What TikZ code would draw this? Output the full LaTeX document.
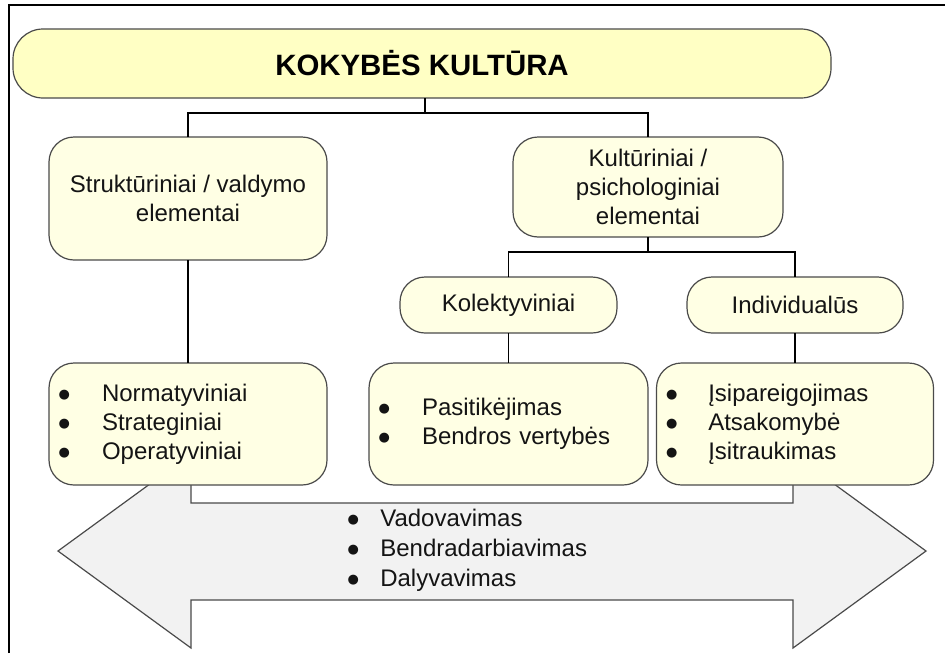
\documentclass[tikz,border=0pt]{standalone}
\usepackage{fontspec}
\setmainfont{Liberation Sans}
\newfontfamily\dotfont{DejaVu Sans}
\definecolor{boxline}{HTML}{4A4A4A}
\definecolor{titlefill}{HTML}{FFFFC4}
\definecolor{boxfill}{HTML}{FFFFE4}
\definecolor{arrowfill}{HTML}{F2F2F2}
\definecolor{textc}{HTML}{141414}
% list bullet: a small round dot set before each item
\newcommand{\bul}[1][22pt]{\makebox[#1][l]{\hspace{0.3pt}\raisebox{1.6pt}{\dotfont\fontsize{6.5}{6.5}\selectfont ●}}}
\begin{document}
\begin{tikzpicture}[x=0.5pt,y=-0.5pt,
  box/.style={draw=boxline, line width=0.6pt, fill=boxfill, rounded corners=12.5pt,
    inner sep=0pt, outer sep=0pt, align=center, text=textc,
    font=\fontsize{12}{14.5}\selectfont},
  listbox/.style={box, align=left, inner xsep=4.5pt, text width=#1},
  titlebox/.style={box, fill=titlefill, rounded corners=15pt, text=black,
    font=\fontsize{14.7}{17}\selectfont\bfseries},
  conn/.style={draw=black, line width=0.6pt},
  frame/.style={draw=black, line width=0.8pt},
  blockarrow/.style={draw=boxline, line width=0.6pt, fill=arrowfill, line join=miter}]
\useasboundingbox (0,0) rectangle (945,653);

% page frame (left and top edges)
\draw[frame] (9,653) -- (9,5) -- (945,5);

% double-headed block arrow behind the lower boxes
\draw[blockarrow] (58,551) -- (191,454) -- (191,503) -- (793,503) -- (793,454)
  -- (926,551) -- (793,648) -- (793,600) -- (191,600) -- (191,648) -- cycle;
\node[anchor=west, inner sep=0pt, align=left, text=textc,
  font=\fontsize{12}{15}\selectfont] (forms) at (346.5,550)
  {\bul[16.7pt]Vadovavimas\\ \bul[16.7pt]Bendradarbiavimas\\ \bul[16.7pt]Dalyvavimas};

% boxes
\node[titlebox, minimum width=409pt, minimum height=34.5pt] (title) at (422,63.5)
  {KOKYBĖS KULTŪRA};
\node[box, minimum width=139pt, minimum height=61.5pt] (struct) at (188,198.5)
  {Struktūriniai / valdymo\\elementai};
\node[box, minimum width=135pt, minimum height=50pt] (cult) at (648,187)
  {Kultūriniai /\\psichologiniai\\elementai};
\node[box, minimum width=108.5pt, minimum height=28pt] (kol) at (508.5,305)
  {Kolektyviniai};
\node[box, minimum width=108pt, minimum height=28pt] (ind) at (795,305)
  {Individualūs};
\node[listbox=130pt, minimum width=139pt, minimum height=61pt] (lst1) at (188,424)
  {\bul Normatyviniai\\ \bul Strateginiai\\ \bul Operatyviniai};
\node[listbox=130.5pt, minimum width=139.5pt, minimum height=61pt] (lst2) at (508.5,424)
  {\bul Pasitikėjimas\\ \bul Bendros vertybės};
\node[listbox=129.5pt, minimum width=138.5pt, minimum height=61pt] (lst3) at (795,424)
  {\bul[21.4pt]Įsipareigojimas\\ \bul[21.4pt]Atsakomybė\\ \bul[21.4pt]Įsitraukimas};

% connectors
\coordinate (j1) at (425,113);
\coordinate (j2) at (648,252);
\draw[conn] (title.south -| j1) -- (j1);
\draw[conn] (struct.north) |- (j1) -| (cult.north);
\draw[conn] (cult.south) -- (j2);
\draw[conn] (kol.north) |- (j2) -| (ind.north);
\draw[conn] (struct.south) -- (lst1.north);
\draw[conn] (kol.south) -- (lst2.north);
\draw[conn] (ind.south) -- (lst3.north);
\end{tikzpicture}
\end{document}
